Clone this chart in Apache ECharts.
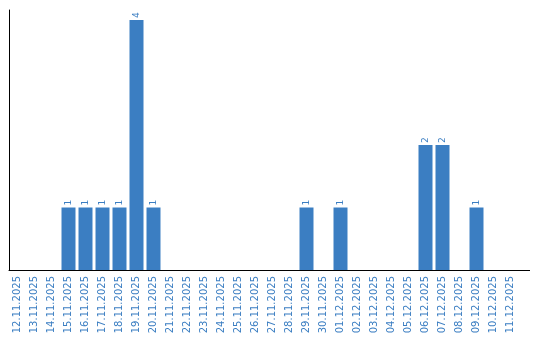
<!DOCTYPE html>
<html><head><meta charset="utf-8">
<script src="https://cdn.jsdelivr.net/npm/echarts@6/dist/echarts.min.js"></script>
<style>html,body{margin:0;padding:0;background:#fff}#c{width:540px;height:340px}</style>
</head><body><div id="c"></div>
<script>
var categories = ["12.11.2025","13.11.2025","14.11.2025","15.11.2025","16.11.2025","17.11.2025","18.11.2025","19.11.2025","20.11.2025","21.11.2025","22.11.2025","23.11.2025","24.11.2025","25.11.2025","26.11.2025","27.11.2025","28.11.2025","29.11.2025","30.11.2025","01.12.2025","02.12.2025","03.12.2025","04.12.2025","05.12.2025","06.12.2025","07.12.2025","08.12.2025","09.12.2025","10.12.2025","11.12.2025"];
var values = [0,0,0,1,1,1,1,4,1,0,0,0,0,0,0,0,0,1,0,1,0,0,0,0,2,2,0,1,0,0];
var blue = '#3b7ec2';
var chart = echarts.init(document.getElementById('c'));
chart.setOption({
  animation: false,
  grid: {left: 9, top: 10, width: 510, height: 260, containLabel: false},
  xAxis: {
    type: 'category', data: categories,
    axisLine: {lineStyle: {color: '#000', width: 1}},
    axisTick: {show: false},
    axisLabel: {interval: 0, rotate: 90, color: blue, fontFamily: 'DejaVu Sans', fontSize: 10, margin: 6}
  },
  yAxis: {
    type: 'value', min: 0, max: 4.16,
    axisLine: {show: true, lineStyle: {color: '#000', width: 1}},
    axisTick: {show: false}, axisLabel: {show: false}, splitLine: {show: false}
  },
  graphic: [{type: 'line', shape: {x1: 519, y1: 270.5, x2: 530, y2: 270.5}, style: {stroke: '#000', lineWidth: 1}}],
  series: [{
    type: 'bar', data: values, barWidth: 14,
    itemStyle: {color: blue},
    label: {
      show: true, position: 'top', rotate: 90, align: 'left', verticalAlign: 'middle', distance: 2,
      color: blue, fontFamily: 'DejaVu Sans', fontSize: 9,
      formatter: function (p) { return p.value ? String(p.value) : ''; }
    }
  }]
});
</script></body></html>
